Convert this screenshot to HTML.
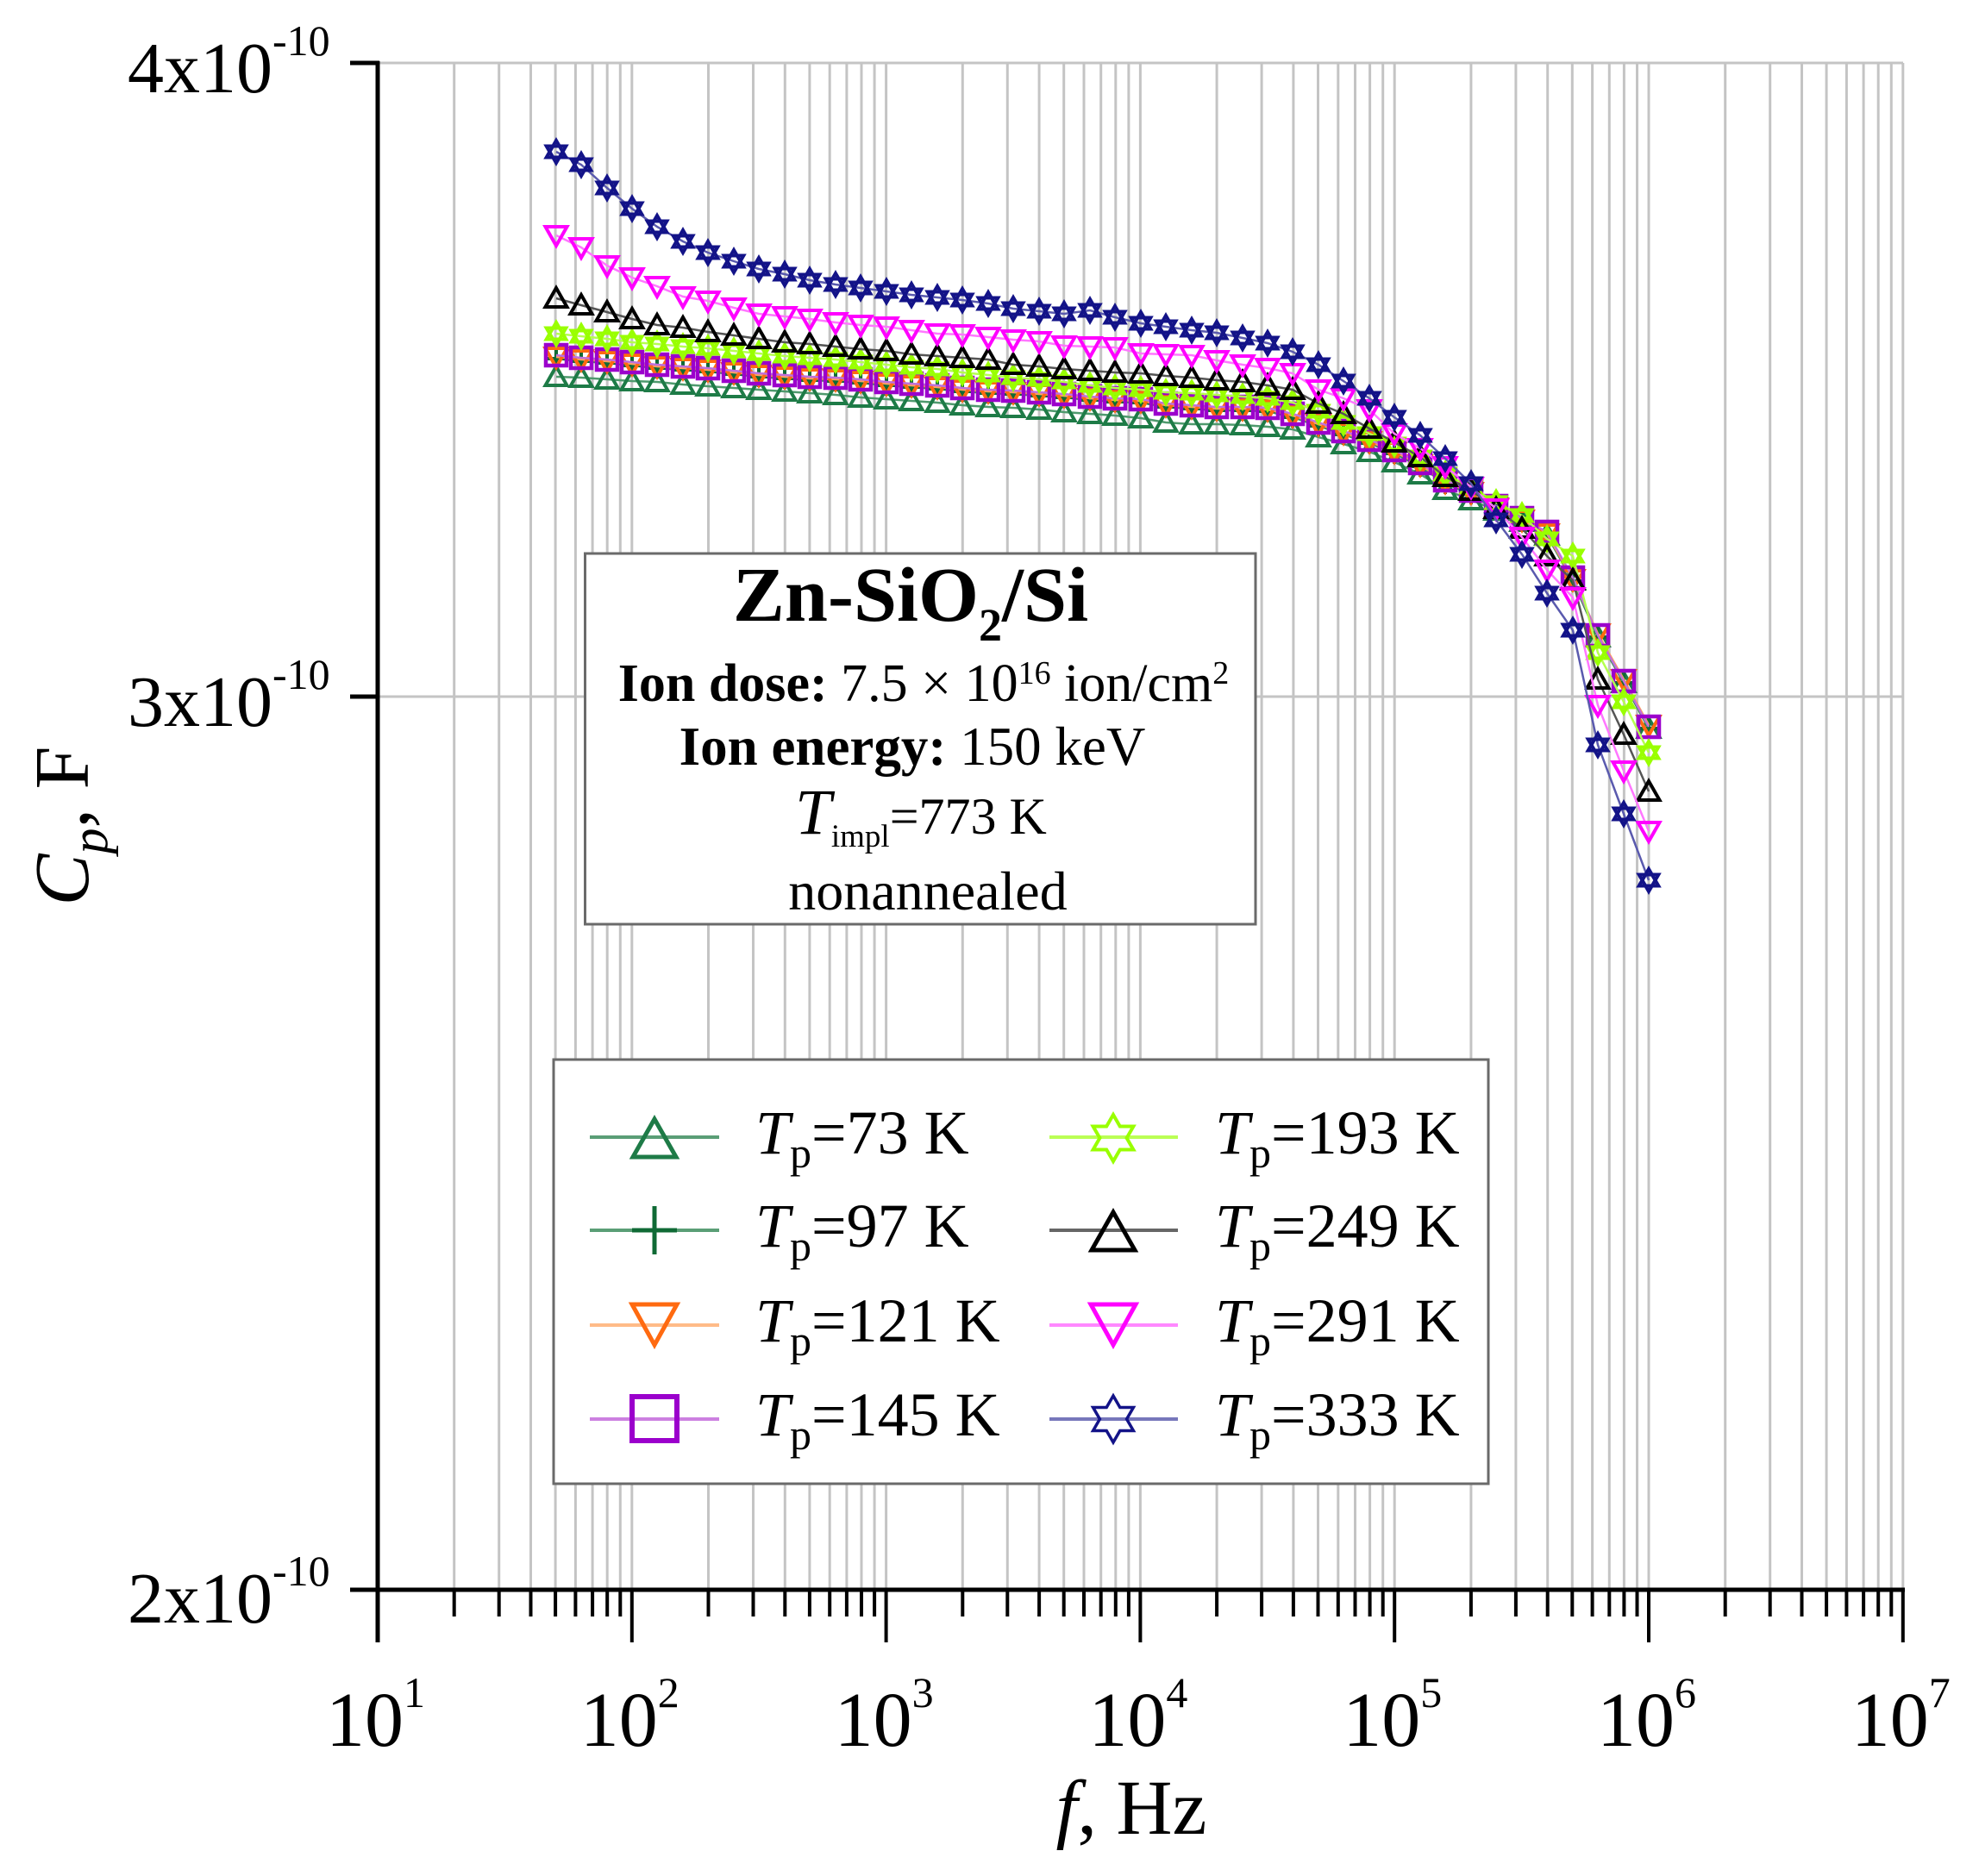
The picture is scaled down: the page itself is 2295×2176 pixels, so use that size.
<!DOCTYPE html>
<html>
<head>
<meta charset="utf-8">
<style>
html,body{margin:0;padding:0;background:#fff;}
svg{display:block;}
</style>
</head>
<body>
<svg xmlns="http://www.w3.org/2000/svg" width="2295" height="2176" viewBox="0 0 2295 2176" font-family="'Liberation Serif','Times New Roman',serif">
<rect x="0" y="0" width="2295" height="2176" fill="#fff"/>
<defs>
  <marker id="m73" markerUnits="userSpaceOnUse" overflow="visible" refX="0" refY="0" markerWidth="1" markerHeight="1">
    <polygon points="0,-12 -12.5,10 12.5,10" fill="none" stroke="#1e7b47" stroke-width="4"/>
  </marker>
  <marker id="m97" markerUnits="userSpaceOnUse" overflow="visible" refX="0" refY="0" markerWidth="1" markerHeight="1">
    <path d="M0,-12V12M-12,0H12" fill="none" stroke="#0f6a35" stroke-width="4"/>
  </marker>
  <marker id="m121" markerUnits="userSpaceOnUse" overflow="visible" refX="0" refY="0" markerWidth="1" markerHeight="1">
    <polygon points="0,12 -12.5,-10 12.5,-10" fill="none" stroke="#ff6a10" stroke-width="4"/>
  </marker>
  <marker id="m145" markerUnits="userSpaceOnUse" overflow="visible" refX="0" refY="0" markerWidth="1" markerHeight="1">
    <rect x="-12" y="-12" width="24" height="24" fill="none" stroke="#9b00cc" stroke-width="4.5"/>
  </marker>
  <marker id="m193" markerUnits="userSpaceOnUse" overflow="visible" refX="0" refY="0" markerWidth="1" markerHeight="1">
    <path d="M0,-13L11.3,6.5L-11.3,6.5ZM0,13L11.3,-6.5L-11.3,-6.5Z" fill="none" stroke="#99ff00" stroke-width="4"/>
  </marker>
  <marker id="m249" markerUnits="userSpaceOnUse" overflow="visible" refX="0" refY="0" markerWidth="1" markerHeight="1">
    <polygon points="0,-12 -12.5,10 12.5,10" fill="none" stroke="#000" stroke-width="4"/>
  </marker>
  <marker id="m291" markerUnits="userSpaceOnUse" overflow="visible" refX="0" refY="0" markerWidth="1" markerHeight="1">
    <polygon points="0,12 -12.5,-10 12.5,-10" fill="none" stroke="#ff00ff" stroke-width="4"/>
  </marker>
  <marker id="m333" markerUnits="userSpaceOnUse" overflow="visible" refX="0" refY="0" markerWidth="1" markerHeight="1">
    <path d="M0,-13L11.3,6.5L-11.3,6.5ZM0,13L11.3,-6.5L-11.3,-6.5Z" fill="none" stroke="#131388" stroke-width="4"/>
  </marker>
</defs>

<!-- grid -->
<path fill="none" stroke="#c4c4c4" stroke-width="3" d="
M526.7,73V1844 M578.7,73V1844 M615.5,73V1844 M644.1,73V1844 M667.4,73V1844 M687.1,73V1844 M704.2,73V1844 M719.3,73V1844
M732.8,73V1844 M821.5,73V1844 M873.5,73V1844 M910.3,73V1844 M938.9,73V1844 M962.2,73V1844 M981.9,73V1844 M999,73V1844 M1014.1,73V1844
M1027.6,73V1844 M1116.3,73V1844 M1168.3,73V1844 M1205.1,73V1844 M1233.7,73V1844 M1257,73V1844 M1276.7,73V1844 M1293.8,73V1844 M1308.9,73V1844
M1322.4,73V1844 M1411.1,73V1844 M1463.1,73V1844 M1499.9,73V1844 M1528.5,73V1844 M1551.8,73V1844 M1571.5,73V1844 M1588.6,73V1844 M1603.7,73V1844
M1617.2,73V1844 M1705.9,73V1844 M1757.9,73V1844 M1794.7,73V1844 M1823.3,73V1844 M1846.6,73V1844 M1866.3,73V1844 M1883.4,73V1844 M1898.5,73V1844
M1912,73V1844 M2000.7,73V1844 M2052.7,73V1844 M2089.5,73V1844 M2118.1,73V1844 M2141.4,73V1844 M2161.1,73V1844 M2178.2,73V1844 M2193.3,73V1844
M2206.8,73V1844
M438,73H2207 M438,808H2207"/>

<!-- annotation box -->
<rect x="678.5" y="642" width="777.5" height="430" fill="#fff" stroke="#6a6a6a" stroke-width="3"/>
<text x="1056" y="720" font-size="90" font-weight="bold" text-anchor="middle">Zn-SiO<tspan font-size="54" dy="23">2</tspan><tspan dy="-23">/Si</tspan></text>
<text x="1071" y="813" font-size="62" text-anchor="middle"><tspan font-weight="bold">Ion dose:</tspan> 7.5 × 10<tspan font-size="38" dy="-20">16</tspan><tspan dy="20"> ion/cm</tspan><tspan font-size="38" dy="-20">2</tspan></text>
<text x="1058" y="887" font-size="63" text-anchor="middle"><tspan font-weight="bold">Ion energy:</tspan> 150 keV</text>
<text x="1068" y="967" font-size="60" text-anchor="middle"><tspan font-style="italic" font-size="75">T</tspan><tspan font-size="37" dy="15">impl</tspan><tspan dy="-15">=773 K</tspan></text>
<text x="1076" y="1055" font-size="64" text-anchor="middle">nonannealed</text>

<!-- legend box -->
<rect x="642" y="1229" width="1084" height="492" fill="#fff" stroke="#6a6a6a" stroke-width="3"/>
<!-- legend col 1 -->
<path d="M684,1319H834" stroke="#5a9e76" stroke-width="4"/>
<polygon points="759,1298 734,1342 784,1342" fill="none" stroke="#1e7b47" stroke-width="5"/>
<path d="M684,1427H834" stroke="#5a9e76" stroke-width="4"/>
<path d="M759,1399V1455M733,1427H785" stroke="#0f6a35" stroke-width="5"/>
<path d="M684,1537H834" stroke="#ffbb88" stroke-width="4"/>
<polygon points="733,1513 785,1513 759,1560" fill="none" stroke="#ff6a10" stroke-width="5"/>
<path d="M684,1646H834" stroke="#cc80e0" stroke-width="4"/>
<rect x="733" y="1620" width="52" height="51" fill="none" stroke="#9b00cc" stroke-width="6"/>
<!-- legend col 2 -->
<path d="M1217,1319H1366" stroke="#bbff55" stroke-width="4"/>
<polygon points="1291,1293 1298.8,1306.5 1314.4,1306.5 1306.6,1320 1314.4,1333.5 1298.8,1333.5 1291,1347 1283.2,1333.5 1267.6,1333.5 1275.4,1320 1267.6,1306.5 1283.2,1306.5" fill="none" stroke="#99ff00" stroke-width="4"/>
<path d="M1217,1427H1366" stroke="#666" stroke-width="4"/>
<polygon points="1291,1406 1266,1450 1316,1450" fill="none" stroke="#000" stroke-width="5"/>
<path d="M1217,1537H1366" stroke="#ff88ff" stroke-width="4"/>
<polygon points="1265,1513 1317,1513 1291,1560" fill="none" stroke="#ff00ff" stroke-width="5"/>
<path d="M1217,1646H1366" stroke="#7777bb" stroke-width="4"/>
<polygon points="1291,1619 1298.8,1632.5 1314.4,1632.5 1306.6,1646 1314.4,1659.5 1298.8,1659.5 1291,1673 1283.2,1659.5 1267.6,1659.5 1275.4,1646 1267.6,1632.5 1283.2,1632.5" fill="none" stroke="#131388" stroke-width="3.5"/>

<g font-size="72">
<text x="876" y="1338"><tspan font-style="italic">T</tspan><tspan font-size="50" dy="16">p</tspan><tspan dy="-16">=73 K</tspan></text>
<text x="876" y="1446"><tspan font-style="italic">T</tspan><tspan font-size="50" dy="16">p</tspan><tspan dy="-16">=97 K</tspan></text>
<text x="876" y="1556"><tspan font-style="italic">T</tspan><tspan font-size="50" dy="16">p</tspan><tspan dy="-16">=121 K</tspan></text>
<text x="876" y="1665"><tspan font-style="italic">T</tspan><tspan font-size="50" dy="16">p</tspan><tspan dy="-16">=145 K</tspan></text>
<text x="1409" y="1338"><tspan font-style="italic">T</tspan><tspan font-size="50" dy="16">p</tspan><tspan dy="-16">=193 K</tspan></text>
<text x="1409" y="1446"><tspan font-style="italic">T</tspan><tspan font-size="50" dy="16">p</tspan><tspan dy="-16">=249 K</tspan></text>
<text x="1409" y="1556"><tspan font-style="italic">T</tspan><tspan font-size="50" dy="16">p</tspan><tspan dy="-16">=291 K</tspan></text>
<text x="1409" y="1665"><tspan font-style="italic">T</tspan><tspan font-size="50" dy="16">p</tspan><tspan dy="-16">=333 K</tspan></text>
</g>

<!-- data series -->
<g fill="none" stroke-width="2.5">
<polyline stroke="#4f9a6e" marker-start="url(#m73)" marker-mid="url(#m73)" marker-end="url(#m73)" points="645,437 674,438 704,440 733,442 762,443 792,446 821,448 851,450 880,452 910,454 939,456 969,458 998,461 1028,463 1057,465 1087,467 1116,470 1146,472 1175,473 1205,475 1234,478 1264,480 1293,482 1323,485 1352,490 1382,492 1411,492 1441,493 1470,495 1499,498 1529,507 1558,515 1588,524 1617,536 1647,550 1676,568 1706,580 1735,592 1765,605 1794,621 1824,672 1853,739 1883,792 1912,845"/>
<polyline stroke="#3f8a5e" marker-start="url(#m97)" marker-mid="url(#m97)" marker-end="url(#m97)" points="645,416 674,419 704,421 733,424 762,427 792,429 821,431 851,434 880,437 910,439 939,441 969,442 998,444 1028,447 1057,449 1087,451 1116,454 1146,456 1175,457 1205,459 1234,461 1264,464 1293,466 1323,467 1352,472 1382,474 1411,476 1441,476 1470,477 1499,484 1529,494 1558,504 1588,514 1617,526 1647,541 1676,561 1706,573 1735,591 1765,605 1794,621 1824,674 1853,739 1883,792 1912,845"/>
<polyline stroke="#ffa060" marker-start="url(#m121)" marker-mid="url(#m121)" marker-end="url(#m121)" points="645,414 674,417 704,419 733,422 762,425 792,427 821,429 851,432 880,435 910,437 939,439 969,440 998,442 1028,445 1057,447 1087,449 1116,452 1146,454 1175,455 1205,457 1234,459 1264,462 1293,464 1323,465 1352,470 1382,472 1411,474 1441,474 1470,475 1499,482 1529,492 1558,502 1588,512 1617,524 1647,539 1676,559 1706,571 1735,589 1765,603 1794,619 1824,672 1853,735 1883,788 1912,841"/>
<polyline stroke="#c070dc" marker-start="url(#m145)" marker-mid="url(#m145)" marker-end="url(#m145)" points="645,412 674,415 704,417 733,420 762,423 792,425 821,427 851,430 880,433 910,435 939,437 969,438 998,440 1028,443 1057,445 1087,447 1116,450 1146,452 1175,453 1205,455 1234,457 1264,460 1293,462 1323,463 1352,468 1382,470 1411,472 1441,472 1470,473 1499,480 1529,490 1558,500 1588,510 1617,522 1647,537 1676,557 1706,569 1735,587 1765,601 1794,617 1824,670 1853,737 1883,790 1912,843"/>
<polyline stroke="#b5ff50" marker-start="url(#m193)" marker-mid="url(#m193)" marker-end="url(#m193)" points="645,387 674,390 704,393 733,397 762,399 792,402 821,404 851,407 880,410 910,413 939,415 969,417 998,420 1028,423 1057,426 1087,428 1116,432 1146,435 1175,438 1205,440 1234,443 1264,447 1293,450 1323,452 1352,455 1382,456 1411,458 1441,460 1470,462 1499,467 1529,477 1558,490 1588,503 1617,515 1647,530 1676,550 1706,565 1735,583 1765,598 1794,625 1824,645 1853,757 1883,814 1912,873"/>
<polyline stroke="#555" marker-start="url(#m249)" marker-mid="url(#m249)" marker-end="url(#m249)" points="645,346 674,354 704,362 733,370 762,377 792,380 821,385 851,389 880,393 910,397 939,399 969,402 998,405 1028,407 1057,411 1087,413 1116,415 1146,417 1175,423 1205,425 1234,428 1264,430 1293,432 1323,433 1352,436 1382,438 1411,441 1441,443 1470,447 1499,452 1529,468 1558,480 1588,497 1617,513 1647,530 1676,553 1706,569 1735,590 1765,613 1794,645 1824,673 1853,788 1883,852 1912,918"/>
<polyline stroke="#ff77ff" marker-start="url(#m291)" marker-mid="url(#m291)" marker-end="url(#m291)" points="645,273 674,287 704,308 733,322 762,332 792,344 821,349 851,357 880,364 910,367 939,370 969,374 998,377 1028,379 1057,383 1087,387 1116,388 1146,391 1175,394 1205,396 1234,401 1264,402 1293,403 1323,410 1352,411 1382,412 1411,418 1441,423 1470,427 1499,433 1529,452 1558,462 1588,475 1617,503 1647,520 1676,541 1706,565 1735,590 1765,623 1794,661 1824,693 1853,818 1883,894 1912,964"/>
<polyline stroke="#5a5aae" marker-start="url(#m333)" marker-mid="url(#m333)" marker-end="url(#m333)" points="645,176 674,191 704,218 733,242 762,263 792,280 821,293 851,303 880,312 910,318 939,325 969,330 998,334 1028,338 1057,342 1087,345 1116,348 1146,352 1175,358 1205,361 1234,364 1264,360 1293,368 1323,375 1352,379 1382,383 1411,386 1441,392 1470,398 1499,408 1529,423 1558,442 1588,462 1617,484 1647,505 1676,532 1706,561 1735,603 1765,643 1794,688 1824,731 1853,864 1883,944 1912,1021"/>
</g>

<!-- ticks -->
<path fill="none" stroke="#000" stroke-width="4" d="
M526.7,1844V1875 M578.7,1844V1875 M615.5,1844V1875 M644.1,1844V1875 M667.4,1844V1875 M687.1,1844V1875 M704.2,1844V1875 M719.3,1844V1875
M821.5,1844V1875 M873.5,1844V1875 M910.3,1844V1875 M938.9,1844V1875 M962.2,1844V1875 M981.9,1844V1875 M999,1844V1875 M1014.1,1844V1875
M1116.3,1844V1875 M1168.3,1844V1875 M1205.1,1844V1875 M1233.7,1844V1875 M1257,1844V1875 M1276.7,1844V1875 M1293.8,1844V1875 M1308.9,1844V1875
M1411.1,1844V1875 M1463.1,1844V1875 M1499.9,1844V1875 M1528.5,1844V1875 M1551.8,1844V1875 M1571.5,1844V1875 M1588.6,1844V1875 M1603.7,1844V1875
M1705.9,1844V1875 M1757.9,1844V1875 M1794.7,1844V1875 M1823.3,1844V1875 M1846.6,1844V1875 M1866.3,1844V1875 M1883.4,1844V1875 M1898.5,1844V1875
M2000.7,1844V1875 M2052.7,1844V1875 M2089.5,1844V1875 M2118.1,1844V1875 M2141.4,1844V1875 M2161.1,1844V1875 M2178.2,1844V1875 M2193.3,1844V1875
M732.8,1844V1905 M1027.6,1844V1905 M1322.4,1844V1905 M1617.2,1844V1905 M1912,1844V1905 M2206.8,1844V1905"/>
<path fill="none" stroke="#000" stroke-width="5" d="M438,71V1905 M406,1844H2209 M406,73H440 M406,808H440"/>

<!-- y tick labels -->
<g font-size="84" text-anchor="end">
<text x="316" y="107">4x10</text>
<text x="316" y="842">3x10</text>
<text x="316" y="1882">2x10</text>
</g>
<g font-size="50">
<text x="316" y="64">-10</text>
<text x="316" y="799">-10</text>
<text x="316" y="1839">-10</text>
</g>

<!-- x tick labels -->
<g font-size="90" text-anchor="end">
<text x="468" y="2025">10</text>
<text x="762.8" y="2025">10</text>
<text x="1057.6" y="2025">10</text>
<text x="1352.4" y="2025">10</text>
<text x="1647.2" y="2025">10</text>
<text x="1942" y="2025">10</text>
<text x="2236.8" y="2025">10</text>
</g>
<g font-size="50">
<text x="468" y="1980">1</text>
<text x="762.8" y="1980">2</text>
<text x="1057.6" y="1980">3</text>
<text x="1352.4" y="1980">4</text>
<text x="1647.2" y="1980">5</text>
<text x="1942" y="1980">6</text>
<text x="2236.8" y="1980">7</text>
</g>

<!-- axis titles -->
<text x="1312" y="2127" font-size="90" text-anchor="middle"><tspan font-style="italic">f</tspan>, Hz</text>
<text transform="translate(102,958) rotate(-90)" font-size="90" text-anchor="middle"><tspan font-style="italic">C</tspan><tspan font-style="italic" font-size="60" dy="22">p</tspan><tspan dy="-22">, F</tspan></text>
</svg>
</body>
</html>
